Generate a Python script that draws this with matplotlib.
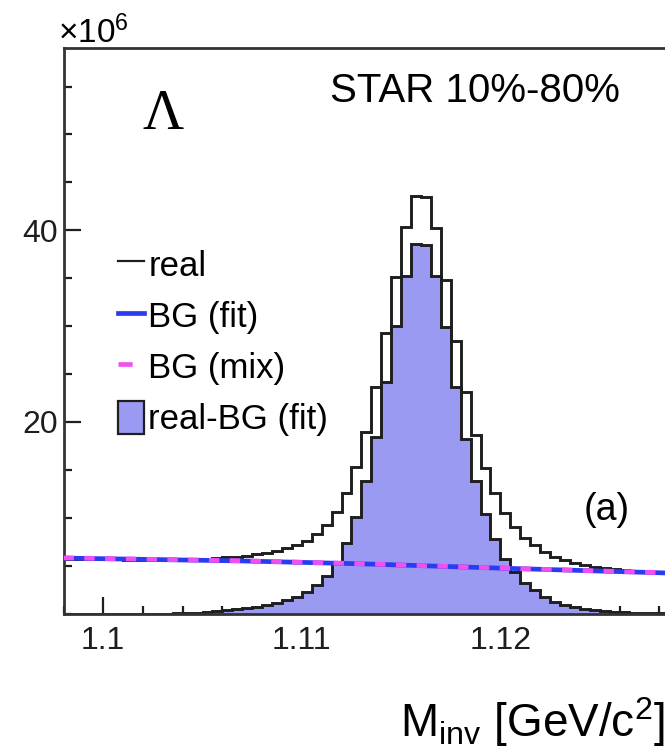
import numpy as np
import matplotlib
matplotlib.use('Agg')
import matplotlib.pyplot as plt
from matplotlib.lines import Line2D
from matplotlib.patches import Patch
from matplotlib.ticker import MultipleLocator, FixedLocator

plt.rcParams['font.family'] = ['Liberation Sans', 'DejaVu Sans']
plt.rcParams['mathtext.fontset'] = 'custom'
plt.rcParams['mathtext.rm'] = 'Liberation Sans'
plt.rcParams['mathtext.it'] = 'Liberation Sans:italic'

# binning: 0.5 MeV bins starting at 1.098 GeV
bin_lo = 1.098
bin_w = 0.0005

# counts (x10^6) for "real" pairs, one per bin
real = [5.74, 5.72, 5.70, 5.69, 5.67, 5.66, 5.64, 5.62, 5.61, 5.60,
        5.60, 5.62, 5.64, 5.67, 5.72, 5.78, 5.86, 5.95, 6.06, 6.20,
        6.36, 6.55, 6.80, 7.15, 7.60, 8.30, 9.25, 10.6, 12.6, 15.3,
        19.0, 23.6, 29.3, 35.1, 40.3, 43.6, 43.5, 40.2, 34.8, 28.5,
        23.1, 18.6, 15.2, 12.6, 10.5, 9.00, 7.90, 7.20, 6.40, 5.95,
        5.60, 5.30, 5.08, 4.92, 4.78, 4.66, 4.56, 4.47, 4.40, 4.34, 4.29]

# real minus fitted background
real_minus_bg = [-0.05, -0.05, -0.05, -0.05, -0.05, -0.05, -0.04, -0.04, -0.03, -0.03,
                 -0.02, 0.02, 0.05, 0.10, 0.17, 0.24, 0.34, 0.45, 0.57, 0.74,
                 0.92, 1.14, 1.41, 1.79, 2.26, 2.99, 3.96, 5.34, 7.36, 10.1,
                 13.8, 18.45, 24.2, 30.0, 35.25, 38.6, 38.5, 35.2, 29.9, 23.6,
                 18.25, 13.8, 10.4, 7.8, 5.75, 4.3, 3.2, 2.5, 1.7, 1.25,
                 0.90, 0.65, 0.48, 0.36, 0.27, 0.20, 0.14, 0.10, 0.06, 0.04, 0.02]

# background curves
bg_x = [1.098, 1.107, 1.113, 1.120, 1.1283]
bg_fit = [5.80, 5.50, 5.20, 4.75, 4.25]
bg_mix = [5.82, 5.52, 5.21, 4.76, 4.26]

x_ticks = [1.10, 1.11, 1.12]
x_ticklabels = ['1.1', '1.11', '1.12']
y_ticks = [20, 40]

edges = bin_lo + bin_w * np.arange(len(real) + 1)

fill_col = '#9a9af2'
blue = '#2a3cf0'
magenta = '#f050f0'
dark = '#1e1e1e'

fig = plt.figure(figsize=(6.65, 7.55), dpi=100)
ax = fig.add_axes([0.0955, 0.1872, 0.9045, 0.749])
ax.set_axisbelow(True)

ax.stairs(real_minus_bg, edges, fill=True, color=fill_col, lw=0, baseline=0, zorder=1)
ax.stairs(real_minus_bg, edges, color=dark, lw=2.1, baseline=None, zorder=2)
ax.stairs(real, edges, color=dark, lw=2.1, baseline=None, zorder=2)
ax.plot(bg_x, bg_fit, color=blue, lw=3.4, zorder=3)
ax.plot(bg_x, bg_mix, color=magenta, lw=3.4, ls=(0, (2.2, 2.2)), zorder=4)

ax.set_xlim(1.098, 1.12829)
ax.set_ylim(0, 59)

ax.xaxis.set_major_locator(FixedLocator(x_ticks))
ax.set_xticklabels(x_ticklabels)
ax.xaxis.set_minor_locator(MultipleLocator(0.002))
ax.yaxis.set_major_locator(FixedLocator(y_ticks))
ax.yaxis.set_minor_locator(MultipleLocator(5))

ax.tick_params(which='both', direction='in', colors=dark, width=1.6,
               top=False, right=False, labelsize=23)
ax.tick_params(which='major', length=12)
ax.tick_params(which='minor', length=6)
ax.tick_params(axis='x', pad=9)
ax.tick_params(axis='y', pad=4)

for s in ['left', 'bottom', 'top']:
    ax.spines[s].set_linewidth(2.0)
    ax.spines[s].set_color('#333333')
ax.spines['right'].set_visible(False)

ax.set_xlabel(r'M$_{\mathrm{inv}}$ [GeV/c$^{2}$]', fontsize=33, loc='right', labelpad=28)

ax.text(0.443, 0.905, 'STAR 10%-80%', transform=ax.transAxes, fontsize=29, ha='left', va='baseline')
ax.text(0.1654, 0.881, 'Λ', transform=ax.transAxes, fontsize=41, ha='center', va='center',
        family=['Liberation Serif', 'DejaVu Serif'])
ax.text(0.9036, 0.183, '(a)', transform=ax.transAxes, fontsize=27, ha='center', va='center')
fig.text(58 / 665, 1 - 43 / 755, r'$\times$10$^{6}$', fontsize=24, ha='left', va='baseline')

# legend handles
handles = [
    Line2D([], [], color=dark, lw=1.6),
    Line2D([], [], color=blue, lw=3.4),
    Line2D([], [], color=magenta, lw=3.4, ls=(0, (3.0, 6.0))),
    Patch(facecolor=fill_col, edgecolor=dark, lw=1.6),
]
labels = ['real', 'BG (fit)', 'BG (mix)', 'real-BG (fit)']
ax.legend(handles, labels, loc='upper left', bbox_to_anchor=(0.0906, 0.648),
          frameon=False, fontsize=25, handlelength=0.75, handleheight=1.1,
          handletextpad=0.12, labelspacing=0.45, borderpad=0, borderaxespad=0)

fig.savefig('out.png', dpi=100)
